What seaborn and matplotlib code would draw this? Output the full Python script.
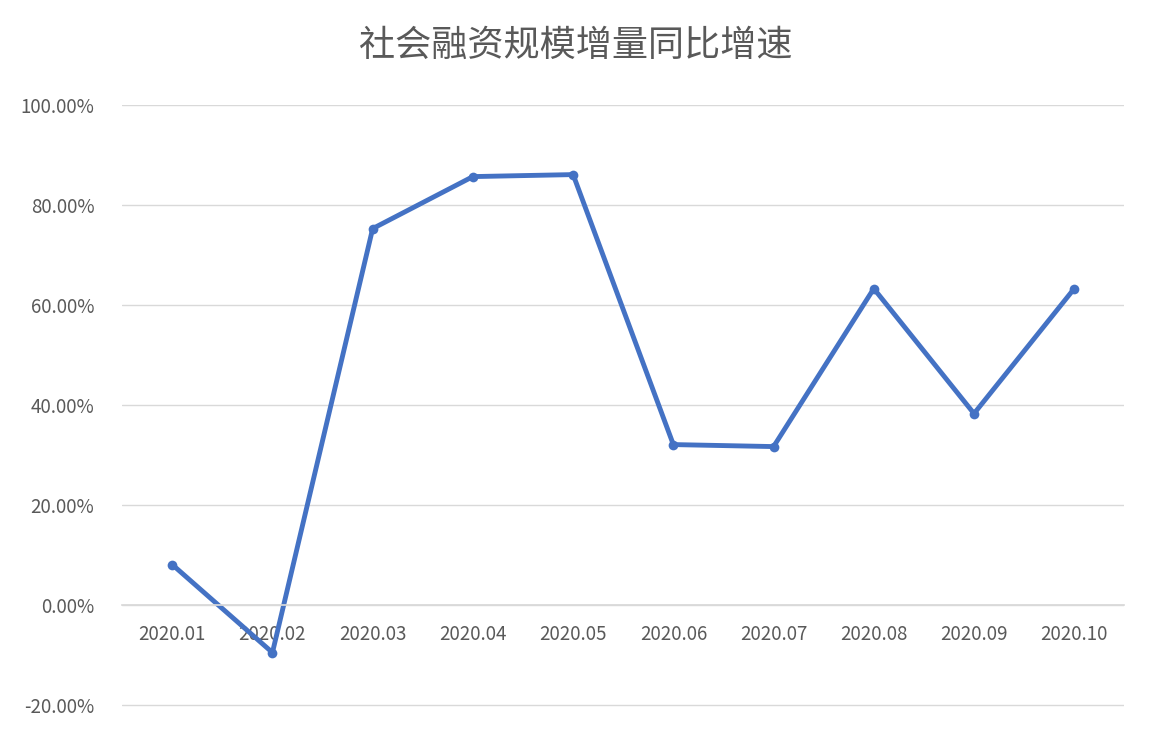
import matplotlib
matplotlib.use("Agg")
import matplotlib.pyplot as plt
import seaborn as sns
import pandas as pd
from matplotlib.ticker import FuncFormatter

months = ["2020.01","2020.02","2020.03","2020.04","2020.05","2020.06","2020.07","2020.08","2020.09","2020.10"]
growth = [8.0, -9.6, 75.2, 85.6, 86.0, 32.0, 31.6, 63.2, 38.2, 63.2]
title = "社会融资规模增量同比增速"

sns.set_theme(style="white")
plt.rcParams['font.family'] = ['Noto Sans CJK SC', 'DejaVu Sans']

fig = plt.figure(figsize=(11.52, 7.34), dpi=100)
ax = fig.add_axes([0.106, 0.036, 0.87, 0.8215])
df = pd.DataFrame({"m": range(len(months)), "g": growth})
sns.lineplot(data=df, x="m", y="g", ax=ax, color="#4472C4", linewidth=3.5,
             marker="o", markersize=7, markeredgewidth=0)
ax.set_xlim(-0.5, len(months) - 0.5)
ax.set_ylim(-20.6, 100)
ax.set_yticks(range(-20, 101, 20))
ax.yaxis.set_major_formatter(FuncFormatter(lambda v, p: f"{v:.2f}%"))
ax.set_xticks(range(len(months)))
ax.set_xticklabels(months)
for s in ["left", "right", "top"]:
    ax.spines[s].set_visible(False)
ax.spines["bottom"].set_position(("data", 0))
ax.spines["bottom"].set_color("#D9D9D9")
ax.grid(axis="y", color="#D9D9D9", linewidth=1)
ax.set_axisbelow(True)
ax.tick_params(axis="both", length=0, labelsize=13.5, colors="#595959")
ax.tick_params(axis="x", pad=14)
ax.tick_params(axis="y", pad=20)
ax.set_xlabel("")
ax.set_ylabel("")
fig.text(0.5, 0.937, title, ha="center", va="center", fontsize=26, color="#595959")
fig.savefig("out.png", dpi=100)
